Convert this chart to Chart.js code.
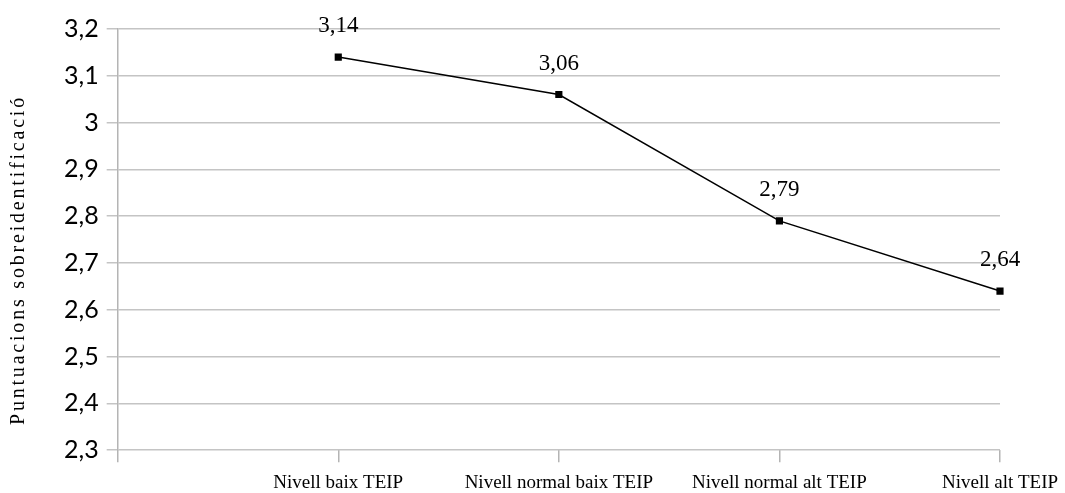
<!DOCTYPE html>
<html>
<head>
<meta charset="utf-8">
<script src="https://cdn.jsdelivr.net/npm/chart.js@4/dist/chart.umd.min.js"></script>
<style>
  html, body { margin: 0; padding: 0; background: #fff; }
  #wrap { width: 1065px; height: 493px; }
</style>
</head>
<body>
<div id="wrap"><canvas id="grafic"></canvas></div>
<script>
// dades llegides del gràfic
const categories = ['', 'Nivell baix TEIP', 'Nivell normal baix TEIP', 'Nivell normal alt TEIP', 'Nivell alt TEIP'];
const puntuacions = [null, 3.14, 3.06, 2.79, 2.64];
const titolEixY = 'Puntuacions sobreidentificació';

const ambComa = v => String(Math.round(v * 100) / 100).replace('.', ',');

// etiquetes de valor sobre cada punt + títol de l'eix Y (amb espaiat)
const etiquetesValor = {
  id: 'etiquetesValor',
  afterDatasetsDraw(chart) {
    const ctx = chart.ctx;
    const meta = chart.getDatasetMeta(0);
    ctx.save();
    ctx.font = '23px "Liberation Serif", serif';
    ctx.fillStyle = '#000';
    ctx.textAlign = 'center';
    ctx.textBaseline = 'alphabetic';
    meta.data.forEach((pt, i) => {
      const v = puntuacions[i];
      if (v === null) return;
      ctx.fillText(ambComa(v), pt.x, pt.y - 25);
    });
    ctx.restore();

    ctx.save();
    ctx.translate(24, 260);
    ctx.rotate(-Math.PI / 2);
    ctx.font = '20px "Liberation Serif", serif';
    if ('letterSpacing' in ctx) ctx.letterSpacing = '2.8px';
    ctx.fillStyle = '#000';
    ctx.textAlign = 'center';
    ctx.textBaseline = 'alphabetic';
    ctx.fillText(titolEixY, 0, 0);
    ctx.restore();
  }
};

new Chart(document.getElementById('grafic'), {
  type: 'line',
  data: {
    labels: categories,
    datasets: [{
      data: puntuacions,
      borderColor: '#000',
      borderWidth: 1.5,
      pointStyle: 'rect',
      pointRadius: 4,
      pointBackgroundColor: '#000',
      pointBorderColor: '#000',
      tension: 0
    }]
  },
  options: {
    responsive: true,
    maintainAspectRatio: false,
    animation: false,
    layout: { padding: { top: 29, right: 0, bottom: -10, left: 56 } },
    plugins: { legend: { display: false }, tooltip: { enabled: false } },
    scales: {
      x: {
        offset: false,
        afterFit: s => { s.paddingRight = 65; },
        grid: { drawOnChartArea: false, drawTicks: true, tickLength: 12, color: '#b4b4b4', lineWidth: 1.5 },
        border: { display: false },
        ticks: {
          color: '#000',
          maxRotation: 0,
          autoSkip: false,
          padding: 9,
          font: { family: '"Liberation Serif", serif', size: 19 }
        }
      },
      y: {
        min: 2.3,
        max: 3.2,
        grid: { color: '#c4c4c4', lineWidth: 1.5, tickLength: 11 },
        border: { color: '#b4b4b4', width: 1.5 },
        ticks: {
          stepSize: 0.1,
          color: '#000',
          padding: 8,
          font: { family: 'Lato, sans-serif', size: 25 },
          callback: v => ambComa(v)
        }
      }
    }
  },
  plugins: [etiquetesValor]
});
</script>
</body>
</html>
